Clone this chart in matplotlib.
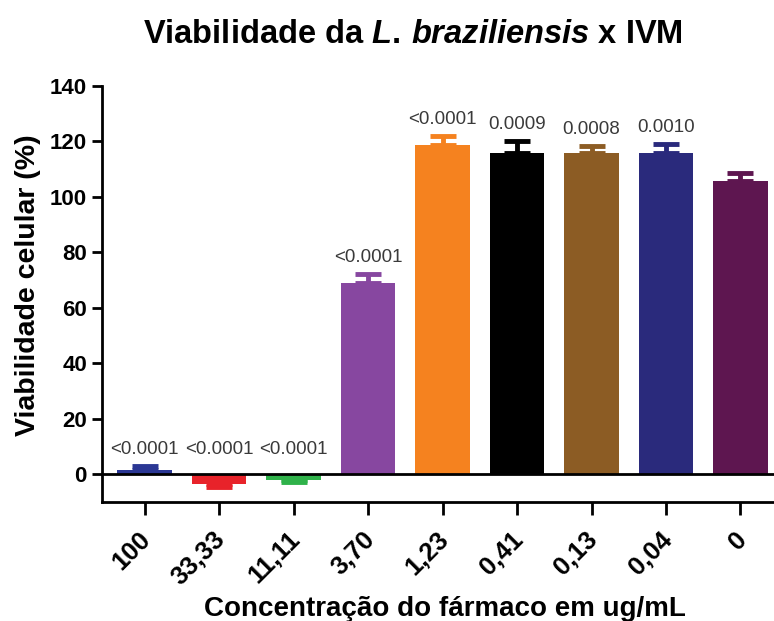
import matplotlib
matplotlib.use('Agg')
import matplotlib.pyplot as plt
import matplotlib.transforms as mtransforms
import numpy as np

concentrations = ['100', '33,33', '11,11', '3,70', '1,23', '0,41', '0,13', '0,04', '0']
viability = [1.5, -3.5, -2.0, 69.0, 118.8, 115.8, 115.8, 115.8, 105.8]
sem = [1.5, 1.2, 0.8, 3.2, 3.2, 4.4, 2.6, 3.2, 2.6]
p_values = ['<0.0001', '<0.0001', '<0.0001', '<0.0001', '<0.0001',
            '0.0009', '0.0008', '0.0010', '']
bar_colors = ['#2b3794', '#e8232a', '#2fb24a', '#8747a0', '#f5821f',
              '#000000', '#8c5c24', '#2a2a7c', '#5e1650']

plt.rcParams['font.family'] = 'Liberation Sans'
plt.rcParams['mathtext.fontset'] = 'custom'
plt.rcParams['mathtext.it'] = 'Liberation Sans:italic:bold'
plt.rcParams['mathtext.rm'] = 'Liberation Sans:bold'

fig = plt.figure(figsize=(7.74, 6.21), dpi=100)
ax = fig.add_axes([0.132, 0.192, 0.868, 0.67])

x = np.arange(len(concentrations))
vals = np.array(viability)
errs = np.array(sem)
lower = np.where(vals < 0, errs, 0)
upper = np.where(vals >= 0, errs, 0)

ax.bar(x, vals, width=0.73, color=bar_colors, zorder=2)
for i in range(len(x)):
    ax.errorbar(x[i], vals[i], yerr=[[lower[i]], [upper[i]]], fmt='none',
                ecolor=bar_colors[i], elinewidth=3.5, capsize=9.5, capthick=3.5,
                zorder=1)

ax.axhline(0, color='black', lw=2, zorder=3)

for i in range(len(x)):
    if not p_values[i]:
        continue
    top = max(vals[i] + upper[i], 3)
    ax.text(x[i], top + 2.8, p_values[i], ha='center', va='bottom',
            fontsize=13.5, color='#3a3a3a')

ax.set_xlim(-0.57, 8.45)
ax.set_ylim(-10, 140)
ax.set_yticks(range(0, 141, 20))
ax.set_xticks(x)
ax.set_xticklabels(concentrations, rotation=45, ha='right',
                   rotation_mode='anchor', fontweight='bold', fontsize=18.5)
for lab in ax.get_yticklabels():
    lab.set_fontweight('bold')
    lab.set_fontsize(16)

ax.spines['top'].set_visible(False)
ax.spines['right'].set_visible(False)
ax.spines['left'].set_linewidth(2)
ax.spines['bottom'].set_linewidth(2)
ax.tick_params(axis='both', width=2, length=7, pad=4)
ax.tick_params(axis='x', length=9.5, pad=9)

shift = mtransforms.ScaledTranslation(-6 / 100, 0, fig.dpi_scale_trans)
for lab in ax.get_xticklabels():
    lab.set_transform(lab.get_transform() + shift)

ax.set_ylabel('Viabilidade celular (%)', fontsize=20.5, fontweight='bold', labelpad=6)
ax.yaxis.label.set_y(0.52)
ax.set_xlabel('Concentração do fármaco em ug/mL', fontsize=20,
              fontweight='bold', labelpad=4)
ax.xaxis.label.set_x(0.51)
fig.text(0.534, 0.944, r'Viabilidade da $\it{L.\,braziliensis}$ x IVM',
         ha='center', va='center', fontsize=23.5, fontweight='bold')

fig.savefig('out.png', dpi=100)
